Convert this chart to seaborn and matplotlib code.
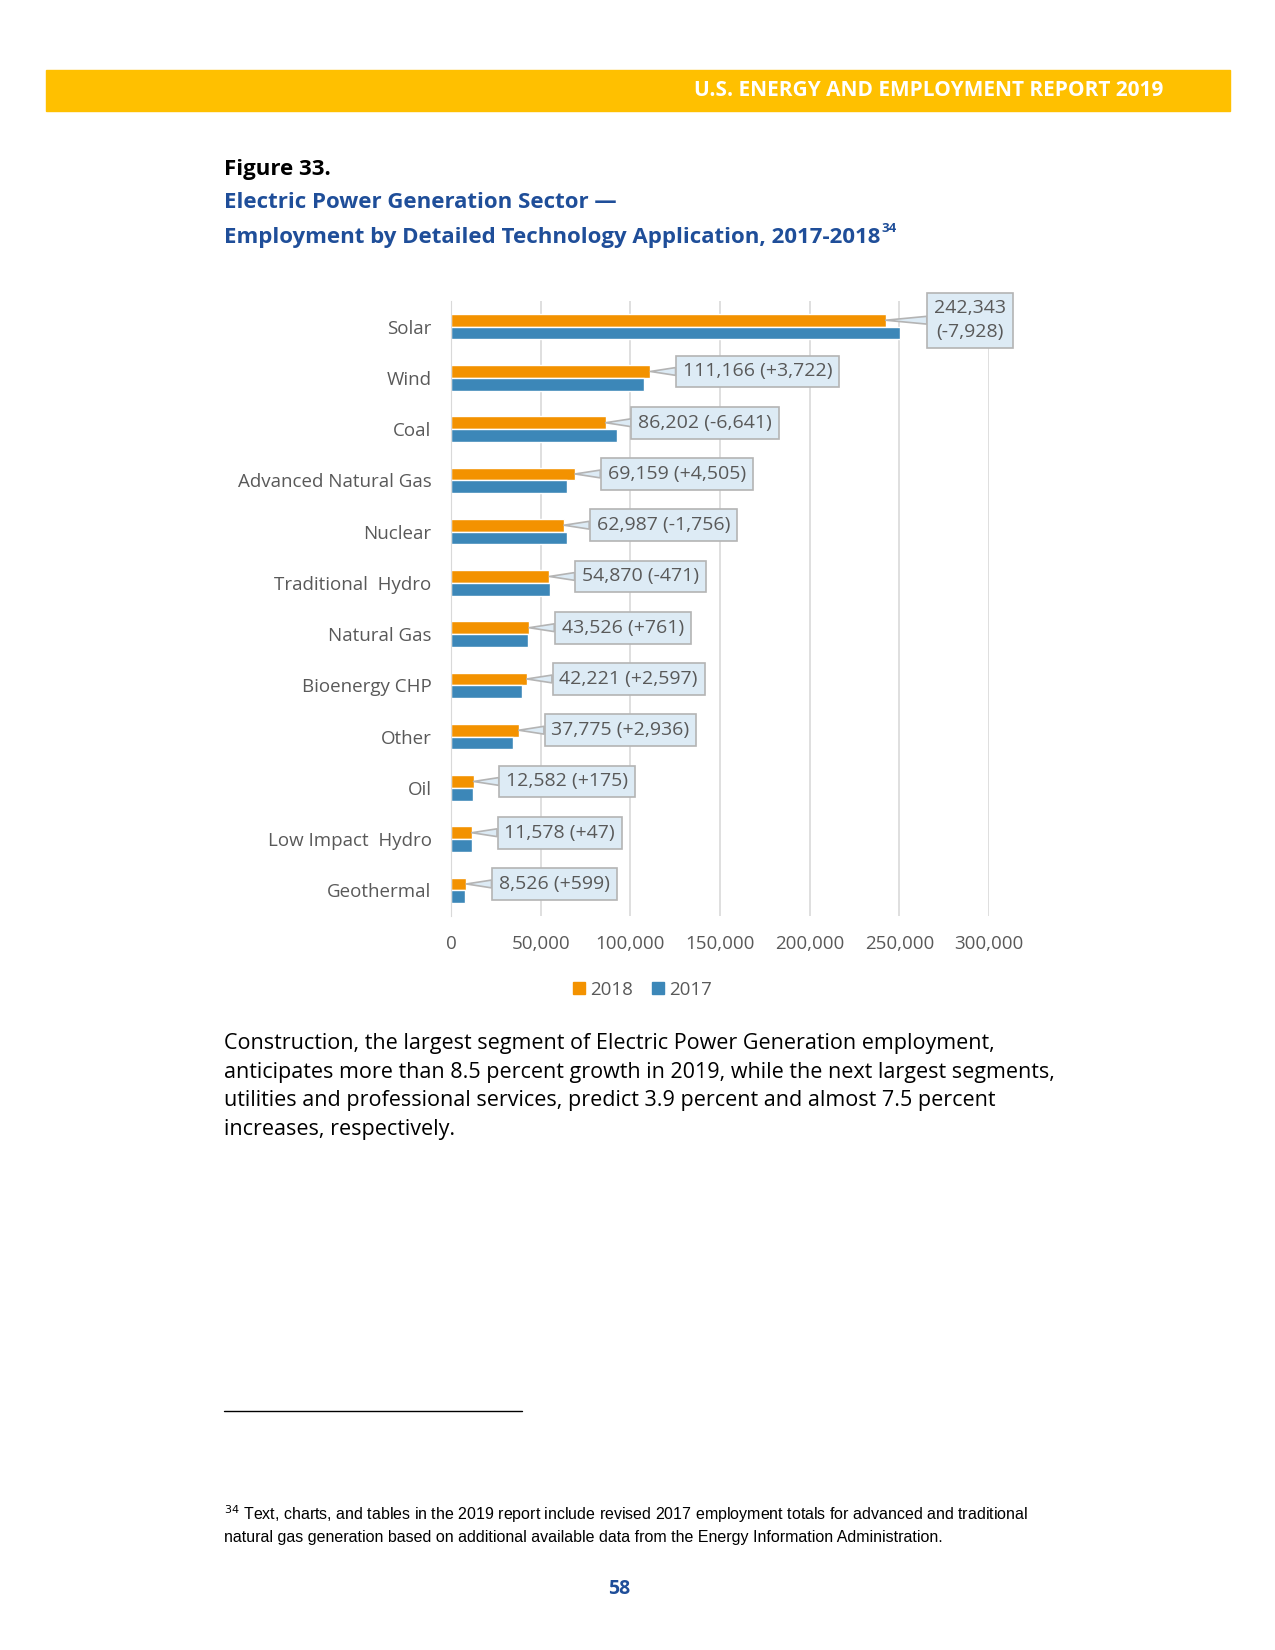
import matplotlib
matplotlib.use("Agg")
import matplotlib.pyplot as plt
from matplotlib.lines import Line2D
from matplotlib.patches import Rectangle
import seaborn as sns
import pandas as pd

# chart values
technologies = ["Solar", "Wind", "Coal", "Advanced Natural Gas", "Nuclear",
                "Traditional  Hydro", "Natural Gas", "Bioenergy CHP", "Other",
                "Oil", "Low Impact  Hydro", "Geothermal"]
jobs_2018 = [242343, 111166, 86202, 69159, 62987, 54870, 43526, 42221, 37775,
             12582, 11578, 8526]
jobs_2017 = [250271, 107444, 92843, 64654, 64743, 55341, 42765, 39624, 34839,
             12407, 11531, 7927]
change_labels = ["-7,928", "+3,722", "-6,641", "+4,505", "-1,756", "-471",
                 "+761", "+2,597", "+2,936", "+175", "+47", "+599"]
years = ["2018", "2017"]
x_ticks = [0, 50000, 100000, 150000, 200000, 250000, 300000]

ORANGE = "#F39200"
BLUE = "#3C87B8"
GRAY_TXT = "#595959"
TITLE_BLUE = "#1F4E99"

df = pd.DataFrame({
    "technology": technologies * 2,
    "year": ["2018"] * len(technologies) + ["2017"] * len(technologies),
    "jobs": jobs_2018 + jobs_2017,
})

sns.set_style("white")
plt.rcParams["font.family"] = ["Open Sans", "DejaVu Sans"]

W, H = 1275, 1650
fig = plt.figure(figsize=(W / 100, H / 100), dpi=100)


def fx(px):
    return px / W


def fy(py):
    return 1 - py / H


# header band
fig.patches.append(Rectangle((fx(46), fy(111)), fx(1230) - fx(46), fy(70) - fy(111),
                             transform=fig.transFigure, color="#FFC000", zorder=0))
fig.text(fx(1163), fy(91), "U.S. ENERGY AND EMPLOYMENT REPORT 2019", color="white",
         fontsize=15, fontweight="bold", ha="right", va="center")

# figure titles
fig.text(fx(224), fy(169), "Figure 33.", fontsize=16, fontweight="bold",
         color="black", ha="left", va="center")
fig.text(fx(224), fy(202), "Electric Power Generation Sector \u2014", fontsize=16,
         fontweight="bold", color=TITLE_BLUE, ha="left", va="center")
t2 = fig.text(fx(224), fy(237), "Employment by Detailed Technology Application, 2017-2018",
              fontsize=16, fontweight="bold", color=TITLE_BLUE, ha="left", va="center")
fig.canvas.draw()
bb = t2.get_window_extent()
fig.text(bb.x1 / W + fx(1), fy(229), "34", fontsize=9.5, fontweight="bold",
         color=TITLE_BLUE, ha="left", va="center")

# chart
ax = fig.add_axes([fx(451), fy(916), fx(989) - fx(451), fy(301) - fy(916)])
sns.barplot(data=df, y="technology", x="jobs", hue="year", hue_order=years,
            palette=[ORANGE, BLUE], orient="h", width=0.5, saturation=1,
            order=technologies, ax=ax)
ax.set_xlim(0, 300000)
ax.set_xticks(x_ticks)
ax.set_xticklabels([f"{t:,}" for t in x_ticks])
ax.set_xlabel("")
ax.set_ylabel("")
ax.grid(axis="x", color="#D9D9D9", linewidth=1.2)
ax.grid(axis="y", visible=False)
ax.set_axisbelow(True)
for side in ["top", "right", "bottom"]:
    ax.spines[side].set_visible(False)
ax.spines["left"].set_color("#D9D9D9")
ax.tick_params(axis="both", length=0, labelsize=13.5, labelcolor=GRAY_TXT)
ax.tick_params(axis="y", pad=14)
ax.tick_params(axis="x", pad=14)
ax.get_legend().remove()

# callout labels on the 2018 bars
for bar, lab, v in zip(ax.containers[0], change_labels, jobs_2018):
    yc = bar.get_y() + bar.get_height() / 2
    xe = bar.get_width()
    text = f"{v:,} ({lab})"
    dx = 23.5
    if v > 200000:
        text = f"{v:,}\n({lab})"
        dx = 35
    ax.annotate(text, xy=(xe, yc), xytext=(dx, 0), textcoords="offset points",
                ha="left", va="center", fontsize=14, color=GRAY_TXT,
                multialignment="center", linespacing=1.4, annotation_clip=False,
                bbox=dict(boxstyle="square,pad=0.35", fc="#DDEBF5", ec="#B4B4B4", lw=1.2),
                arrowprops=dict(arrowstyle="wedge,tail_width=0.4,shrink_factor=0.5",
                                fc="#DDEBF5", ec="#B4B4B4", lw=1.2, shrinkA=0, shrinkB=0))

# legend
handles = [Line2D([], [], marker="s", linestyle="", markersize=8, color=c)
           for c in [ORANGE, BLUE]]
fig.legend(handles, years, loc="center", bbox_to_anchor=(fx(641), fy(990)), ncol=2,
           frameon=False, fontsize=13.5, labelcolor=GRAY_TXT, handletextpad=0.1,
           columnspacing=0.8, handlelength=1.0)

# body text
body = ("Construction, the largest segment of Electric Power Generation employment,\n"
        "anticipates more than 8.5 percent growth in 2019, while the next largest segments,\n"
        "utilities and professional services, predict 3.9 percent and almost 7.5 percent\n"
        "increases, respectively.")
fig.text(fx(224), fy(1033), body, fontsize=15.5, color="black", ha="left", va="top",
         linespacing=1.47)

# footnote
fig.add_artist(Line2D([fx(224), fx(522)], [fy(1411), fy(1411)], color="black",
                      lw=1, transform=fig.transFigure))
foot = ("$^{34}$ Text, charts, and tables in the 2019 report include revised 2017 employment totals for advanced and traditional\n"
        "natural gas generation based on additional available data from the Energy Information Administration.")
fig.text(fx(224), fy(1503), foot, fontsize=11.5, color="black", ha="left", va="top",
         linespacing=1.45, family=["Liberation Sans", "DejaVu Sans"])

fig.text(fx(619), fy(1589), "58", fontsize=14, fontweight="bold", color=TITLE_BLUE,
         ha="center", va="center")

fig.savefig("out.png", dpi=100)
